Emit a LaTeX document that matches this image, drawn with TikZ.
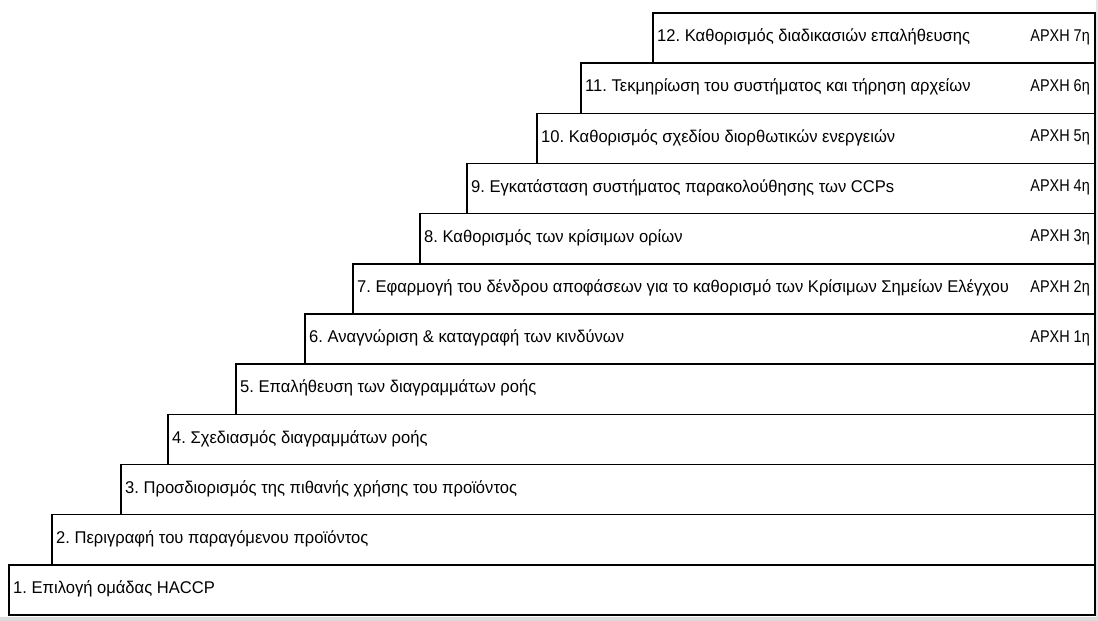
\documentclass[tikz,border=0pt]{standalone}
\usepackage{fontspec}
\setmainfont{Liberation Sans}[FakeStretch=0.975]
\newfontfamily\narrowfont{Liberation Sans}[FakeStretch=0.85]
\frenchspacing
\begin{document}
\begin{tikzpicture}[x=1pt,y=1pt,
  stepbox/.style={draw=black, line width=1.5pt, fill=white, rectangle,
    inner sep=0pt, outer sep=0pt, minimum height=50.17pt, anchor=south west},
  steptext/.style={anchor=west, inner sep=0pt, font=\fontsize{17}{19}\selectfont},
  princ/.style={anchor=east, inner sep=0pt, font=\narrowfont\fontsize{17}{19}\selectfont}]
  % page area and the soft grey shadow strip under the stairs
  \fill[white] (0,0) rectangle (1098,621);
  \fill[black!14] (0,0) rectangle (1098,4);
  \fill[black!10] (1096,4) rectangle (1098,621);
  \useasboundingbox (0,0) rectangle (1098,621);
  % the twelve steps, from the bottom up
  \foreach \i/\l/\t in {
    1/9/{1. Επιλογή ομάδας HACCP},
    2/52/{2. Περιγραφή του παραγόμενου προϊόντος},
    3/121/{3. Προσδιορισμός της πιθανής χρήσης του προϊόντος},
    4/168/{4. Σχεδιασμός διαγραμμάτων ροής},
    5/236/{5. Επαλήθευση των διαγραμμάτων ροής},
    6/305/{6. Αναγνώριση \& καταγραφή των κινδύνων},
    7/353/{7. Εφαρμογή του δένδρου αποφάσεων για το καθορισμό των Κρίσιμων Σημείων Ελέγχου},
    8/420/{8. Καθορισμός των κρίσιμων ορίων},
    9/467/{9. Εγκατάσταση συστήματος παρακολούθησης των CCPs},
    10/537/{10. Καθορισμός σχεδίου διορθωτικών ενεργειών},
    11/581/{11. Τεκμηρίωση του συστήματος και τήρηση αρχείων},
    12/653/{12. Καθορισμός διαδικασιών επαλήθευσης}} {
    \pgfmathsetmacro\w{1095-\l}
    \pgfmathsetmacro\yb{6+50.17*(\i-1)}
    \node[stepbox, minimum width=\w pt] (b\i) at (\l,\yb) {};
    \node[steptext] (t\i) at ([xshift=4pt,yshift=1pt]b\i.west) {\t};
  }
  % principle labels on steps 6 to 12
  \foreach \i/\n in {6/1,7/2,8/3,9/4,10/5,11/6,12/7} {
    \node[princ] (p\i) at ([xshift=-5pt,yshift=1pt]b\i.east) {ΑΡΧΗ \n η};
  }
\end{tikzpicture}
\end{document}
